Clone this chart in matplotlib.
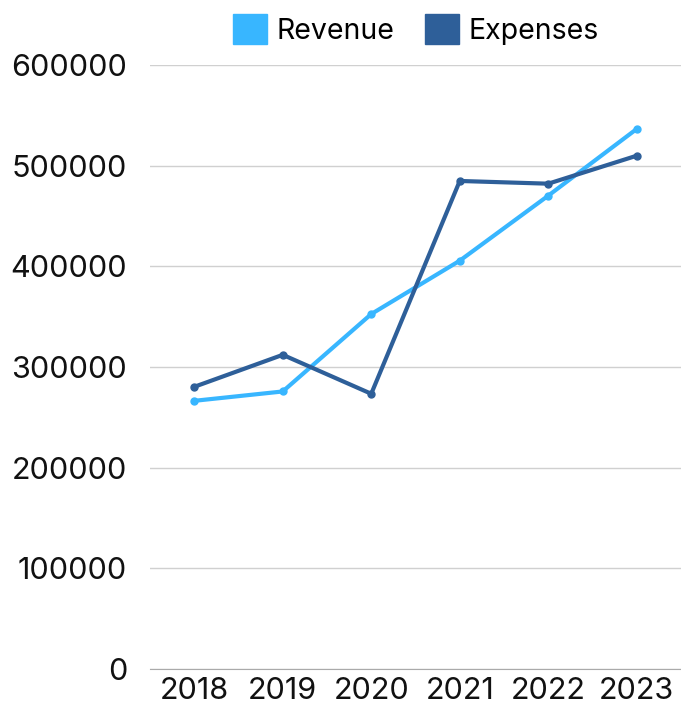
import matplotlib
matplotlib.use("Agg")
import matplotlib.pyplot as plt
from matplotlib.patches import Patch

plt.rcParams['font.family'] = ['Inter', 'DejaVu Sans']

years = ['2018', '2019', '2020', '2021', '2022', '2023']
revenue = [266400, 275700, 352600, 405600, 470200, 536500]
expenses = [280300, 312100, 273400, 484800, 482100, 509900]
yticks = [0, 100000, 200000, 300000, 400000, 500000, 600000]

rev_color = '#38B6FF'
exp_color = '#2E5F99'

fig = plt.figure(figsize=(6.81, 7.08), dpi=100)
ax = fig.add_axes([150/681, 39/708, 531/681, 604/708])

x = range(len(years))
ax.plot(x, revenue, color=rev_color, lw=3, marker='o', ms=5, solid_capstyle='round', zorder=3)
ax.plot(x, expenses, color=exp_color, lw=3, marker='o', ms=5, solid_capstyle='round', zorder=4)

ax.set_xlim(-0.5, len(years) - 0.5)
ax.set_ylim(0, 600000)
ax.set_xticks(list(x))
ax.set_xticklabels(years)
ax.set_yticks(yticks)
ax.set_yticklabels([str(v) for v in yticks])
ax.tick_params(axis='both', length=0, labelsize=22, colors='#111111')
ax.tick_params(axis='y', pad=16.5)
ax.tick_params(axis='x', pad=5.5)
ax.grid(axis='y', color='#d0d0d0', lw=1)
ax.set_axisbelow(True)
for s in ['top', 'right', 'left']:
    ax.spines[s].set_visible(False)
ax.spines['bottom'].set_color('#aaaaaa')

handles = [Patch(color=rev_color, label='Revenue'), Patch(color=exp_color, label='Expenses')]
fig.legend(handles=handles, loc='center', bbox_to_anchor=(416/681, 1 - 29.5/708), ncol=2,
           frameon=False, fontsize=20.5, handlelength=1.19, handleheight=1.23,
           handletextpad=0.35, columnspacing=1.05, borderpad=0)

fig.savefig('out.png', dpi=100)
